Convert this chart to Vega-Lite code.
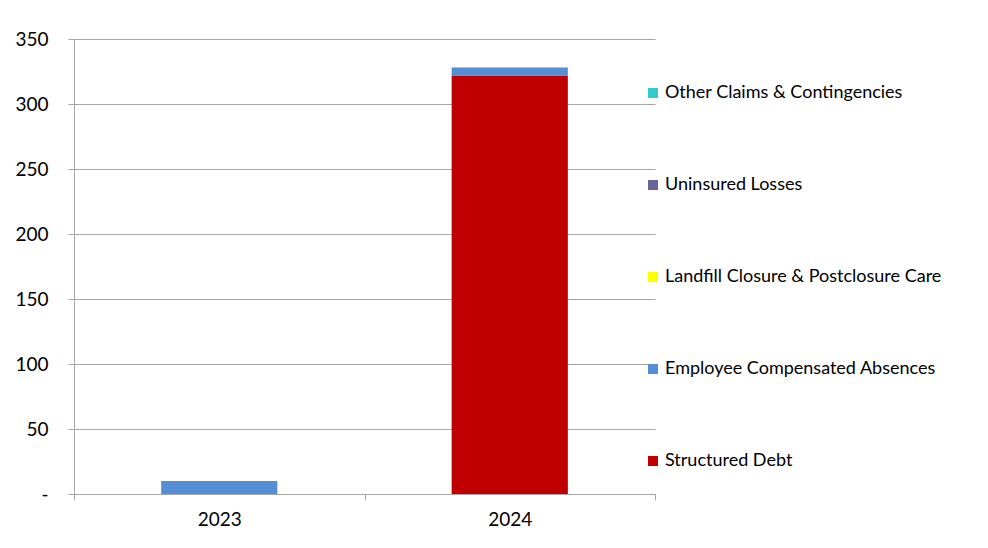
{
  "$schema": "https://vega.github.io/schema/vega-lite/v6.json",
  "width": 581,
  "height": 455,
  "autosize": {"type": "none"},
  "padding": {"left": 74, "top": 39, "right": 333, "bottom": 54},
  "background": "white",
  "data": {
    "values": [
      {"year": "2023", "series": "Structured Debt", "value": 0},
      {"year": "2023", "series": "Employee Compensated Absences", "value": 10},
      {"year": "2023", "series": "Landfill Closure & Postclosure Care", "value": 0},
      {"year": "2023", "series": "Uninsured Losses", "value": 0},
      {"year": "2023", "series": "Other Claims & Contingencies", "value": 0},
      {"year": "2024", "series": "Structured Debt", "value": 322},
      {"year": "2024", "series": "Employee Compensated Absences", "value": 6},
      {"year": "2024", "series": "Landfill Closure & Postclosure Care", "value": 0},
      {"year": "2024", "series": "Uninsured Losses", "value": 0},
      {"year": "2024", "series": "Other Claims & Contingencies", "value": 0}
    ]
  },
  "transform": [
    {"calculate": "indexof(['Structured Debt','Employee Compensated Absences','Landfill Closure & Postclosure Care','Uninsured Losses','Other Claims & Contingencies'], datum.series)", "as": "stackOrder"}
  ],
  "mark": {"type": "bar", "width": {"band": 0.4}},
  "encoding": {
    "x": {
      "field": "year", "type": "nominal", "title": null,
      "scale": {"paddingInner": 0, "paddingOuter": 0},
      "axis": {"labelAngle": 0, "tickBand": "extent", "labelFont": "Lato", "labelFontSize": 19, "labelColor": "#000000", "labelPadding": 10, "domainColor": "#A6A6A6", "tickColor": "#A6A6A6", "tickSize": 6, "grid": false}
    },
    "y": {
      "field": "value", "type": "quantitative", "aggregate": "sum", "title": null, "stack": "zero",
      "scale": {"domain": [0, 350]},
      "axis": {"values": [0, 50, 100, 150, 200, 250, 300, 350], "labelExpr": "datum.value == 0 ? '-' : datum.label", "labelFont": "Lato", "labelFontSize": 19, "labelColor": "#000000", "labelPadding": 20, "domain": true, "domainColor": "#A6A6A6", "tickColor": "#A6A6A6", "tickSize": 6, "grid": true, "gridColor": "#A6A6A6", "gridWidth": 1}
    },
    "color": {
      "field": "series", "type": "nominal", "title": null,
      "scale": {
        "domain": ["Other Claims & Contingencies", "Uninsured Losses", "Landfill Closure & Postclosure Care", "Employee Compensated Absences", "Structured Debt"],
        "range": ["#33CCCC", "#666699", "#FFFF00", "#558ED5", "#C00000"]
      },
      "legend": {
        "orient": "none", "legendX": 570, "legendY": 45,
        "symbolType": "square", "symbolSize": 100, "symbolStrokeWidth": 0,
        "labelFont": "Lato", "labelFontSize": 18, "labelColor": "#000000", "labelLimit": 400,
        "rowPadding": 74, "labelOffset": 3
      }
    },
    "order": {"field": "stackOrder", "type": "quantitative", "sort": "ascending"}
  },
  "config": {"view": {"stroke": null}}
}
